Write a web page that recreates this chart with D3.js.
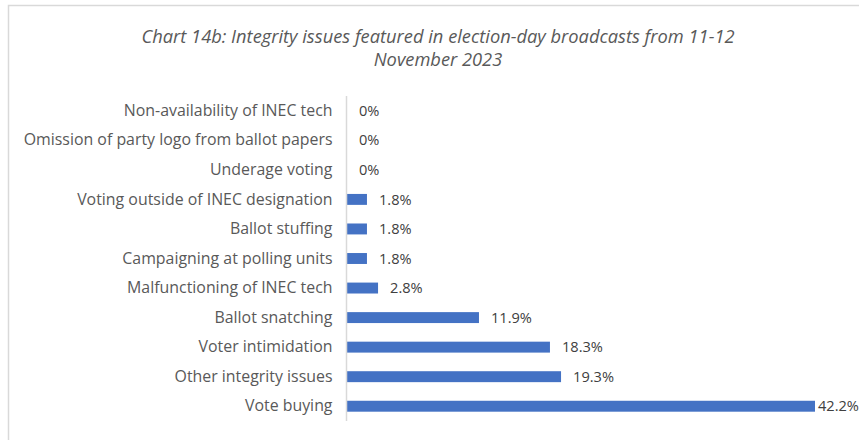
<!DOCTYPE html>
<html>
<head>
<meta charset="utf-8">
<script src="https://cdn.jsdelivr.net/npm/d3@7"></script>
<style>
  html, body { margin: 0; padding: 0; background: #fff; }
  svg { display: block; }
</style>
</head>
<body>
<svg id="chart" width="859" height="440"></svg>
<script>
// Integrity issues featured in election-day broadcasts (share of mentions, %)
const categories = [
  "Non-availability of INEC tech",
  "Omission of party logo from ballot papers",
  "Underage voting",
  "Voting outside of INEC designation",
  "Ballot stuffing",
  "Campaigning at polling units",
  "Malfunctioning of INEC tech",
  "Ballot snatching",
  "Voter intimidation",
  "Other integrity issues",
  "Vote buying"
];
const values = [0, 0, 0, 1.8, 1.8, 1.8, 2.8, 11.9, 18.3, 19.3, 42.2];
const valueLabels = ["0%", "0%", "0%", "1.8%", "1.8%", "1.8%", "2.8%", "11.9%", "18.3%", "19.3%", "42.2%"];
const titleLines = [
  "Chart 14b: Integrity issues featured in election-day broadcasts from 11-12",
  "November 2023"
];

const svg = d3.select("#chart");
const font = "'Open Sans', sans-serif";

// chart frame
svg.append("rect")
  .attr("x", 8.5).attr("y", 5.5)
  .attr("width", 860).attr("height", 450)
  .attr("fill", "#fff")
  .attr("stroke", "#d9d9d9")
  .attr("stroke-width", 1.5);

// title
svg.append("g").selectAll("text")
  .data(titleLines)
  .join("text")
  .attr("x", 438)
  .attr("y", (d, i) => 43 + i * 23)
  .attr("text-anchor", "middle")
  .attr("font-family", font)
  .attr("font-style", "italic")
  .attr("font-size", 18.3)
  .attr("fill", "#595959")
  .text(d => d);

const plot = { left: 347, top: 96, bottom: 421 };

const x = d3.scaleLinear().domain([0, 42.2]).range([plot.left, 815]);
const y = d3.scaleBand()
  .domain(categories)
  .range([plot.top, plot.bottom])
  .paddingInner(0.63)
  .paddingOuter(0.315);

// bars
svg.append("g").selectAll("rect")
  .data(values)
  .join("rect")
  .attr("x", x(0))
  .attr("y", (d, i) => y(categories[i]))
  .attr("width", d => x(d) - x(0))
  .attr("height", y.bandwidth())
  .attr("fill", "#4472c4");

// category axis
const axis = svg.append("g")
  .attr("transform", `translate(${plot.left - 0.5},0)`)
  .call(d3.axisLeft(y).tickSize(0).tickPadding(14));
axis.select(".domain").attr("stroke", "#d9d9d9").attr("stroke-width", 1.5)
  .attr("d", `M0,${plot.top}V${plot.bottom}`);
axis.selectAll("text")
  .attr("font-family", font)
  .attr("font-size", 15.9)
  .attr("fill", "#595959");

// value labels, kept inside the frame at the right
svg.append("g").selectAll("text")
  .data(values)
  .join("text")
  .attr("x", d => Math.min(x(d) + 12, 818))
  .attr("y", (d, i) => y(categories[i]) + y.bandwidth() / 2)
  .attr("dy", "0.35em")
  .attr("font-family", font)
  .attr("font-size", 14.6)
  .attr("fill", "#404040")
  .text((d, i) => valueLabels[i]);
</script>
</body>
</html>
